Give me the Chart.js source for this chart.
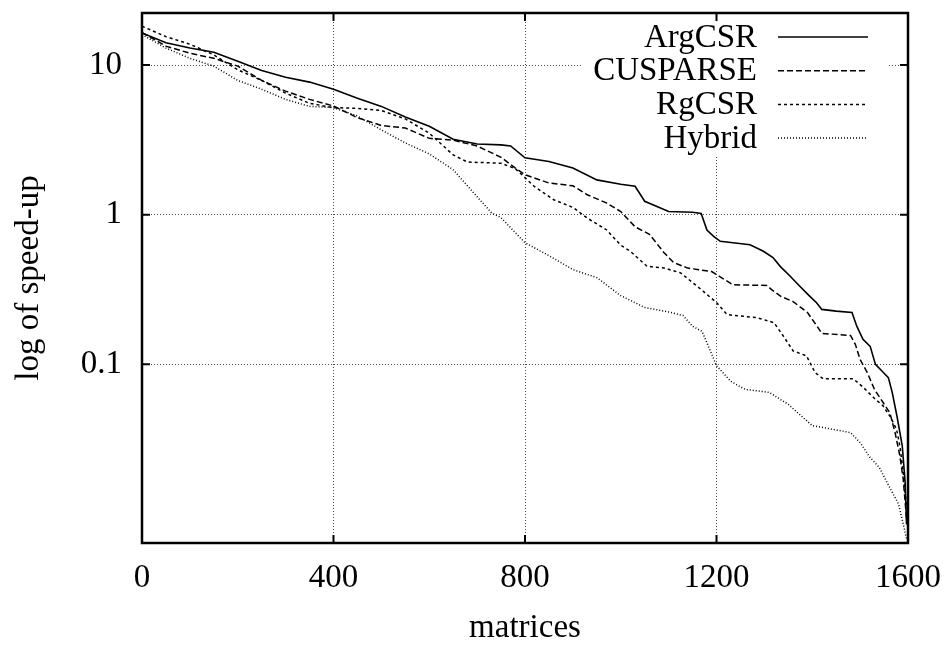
<!DOCTYPE html>
<html>
<head>
<meta charset="utf-8">
<title>log of speed-up</title>
<script src="https://cdn.jsdelivr.net/npm/chart.js@4.4.0/dist/chart.umd.min.js"></script>
<style>
  html, body { margin: 0; padding: 0; background: #fff; }
  #wrap { width: 951px; height: 645px; }
</style>
</head>
<body>
<div id="wrap"><canvas id="speedup" width="951" height="645"></canvas></div>
<script>
// values (x = matrix rank, y = speed-up)
const argX = [0,50,100,150,200,250,300,350,400,450,500,550,600,650,700,750,770,800,850,900,950,1000,1030,1050,1100,1150,1168,1180,1194,1208,1270,1298,1318,1333,1354,1374,1395,1409,1420,1450,1483,1493,1506,1521,1532,1546,1559,1567,1577,1588,1594,1597];
const argY = [16.4,14.1,13.0,12.2,10.6,9.2,8.3,7.7,6.9,6.0,5.3,4.5,3.9,3.2,2.97,2.93,2.88,2.4,2.27,2.05,1.71,1.6,1.55,1.23,1.05,1.04,1.02,0.79,0.717,0.664,0.631,0.57,0.517,0.452,0.388,0.333,0.285,0.258,0.233,0.227,0.222,0.18,0.147,0.132,0.1,0.09,0.0815,0.065,0.045,0.0285,0.0163,0.0085];

const cusX = [0,50,100,150,200,250,300,350,400,450,500,550,600,650,700,750,780,800,850,900,930,970,1000,1030,1060,1090,1110,1140,1190,1210,1235,1305,1315,1335,1360,1390,1410,1420,1480,1490,1500,1515,1530,1548,1562,1573,1583,1590,1597];
const cusY = [16.5,13.4,12.0,11.1,9.85,7.9,6.7,5.9,5.33,4.45,3.95,3.8,3.24,3.15,2.88,2.42,2.05,1.85,1.63,1.56,1.36,1.2,1.05,0.83,0.74,0.56,0.48,0.44,0.417,0.38,0.34,0.337,0.316,0.284,0.263,0.222,0.18,0.161,0.156,0.136,0.108,0.088,0.068,0.0556,0.0476,0.035,0.0245,0.0171,0.0093];

const rgX = [0,50,100,150,200,250,300,350,400,450,500,550,600,650,680,750,780,820,860,900,930,970,1000,1020,1055,1090,1125,1166,1200,1222,1285,1320,1340,1360,1388,1406,1423,1486,1507,1528,1548,1562,1576,1583,1590,1597];
const rgY = [18.2,15.5,13.8,11.7,9.3,7.9,6.5,5.55,5.2,5.14,4.97,4.37,3.51,2.51,2.25,2.21,2.03,1.54,1.26,1.12,0.95,0.794,0.626,0.569,0.452,0.441,0.409,0.32,0.259,0.215,0.205,0.19,0.154,0.123,0.114,0.088,0.08,0.08,0.07,0.06,0.0528,0.0452,0.0369,0.0285,0.019,0.011];

const hybX = [0,50,100,150,200,250,300,350,400,450,500,550,600,650,700,730,750,800,850,900,950,1000,1050,1100,1130,1150,1170,1200,1230,1260,1310,1350,1400,1480,1500,1520,1540,1560,1580,1590,1597];
const hybY = [16.0,13.0,11.1,9.85,7.9,6.9,5.9,5.3,5.2,4.57,3.69,3.02,2.55,2.0,1.32,1.03,0.955,0.65,0.533,0.43,0.38,0.288,0.24,0.224,0.212,0.18,0.166,0.098,0.077,0.068,0.065,0.054,0.039,0.035,0.03,0.024,0.0205,0.0154,0.0117,0.0086,0.0068];

const seriesNames = ["ArgCSR", "CUSPARSE", "RgCSR", "Hybrid"];
const xTicks = [0, 400, 800, 1200, 1600];
const yTicks = [0.1, 1, 10];

const FONT = "'Liberation Serif', 'Times New Roman', serif";
Chart.defaults.font.family = FONT;
Chart.defaults.font.size = 33;
Chart.defaults.color = "#000";

function toPoints(xs, ys) {
  return xs.map((x, i) => ({ x: x, y: ys[i] }));
}

const lineStyles = [
  { dash: [], width: 1.6 },
  { dash: [6, 3], width: 1.5 },
  { dash: [3, 3], width: 1.5 },
  { dash: [1, 2], width: 1.5 }
];

const allX = [argX, cusX, rgX, hybX];
const allY = [argY, cusY, rgY, hybY];

const datasets = seriesNames.map((name, i) => ({
  label: name,
  data: toPoints(allX[i], allY[i]),
  borderColor: "#000",
  borderWidth: lineStyles[i].width,
  borderDash: lineStyles[i].dash,
  pointRadius: 0,
  fill: false,
  tension: 0
}));

// frame, inward tick marks and the gnuplot-style key
const framePlugin = {
  id: "frame",
  beforeDatasetsDraw(chart) {
    const { ctx, chartArea: a } = chart;
    ctx.save();
    ctx.fillStyle = "#fff";
    ctx.fillRect(a.right - 325, a.top + 1, 305, 143);
    ctx.restore();
  },
  afterDatasetsDraw(chart) {
    const { ctx, chartArea: a, scales } = chart;
    ctx.save();
    ctx.strokeStyle = "#000";

    ctx.lineWidth = 2;
    ctx.beginPath();
    xTicks.forEach(v => {
      const px = scales.x.getPixelForValue(v);
      ctx.moveTo(px, a.bottom); ctx.lineTo(px, a.bottom - 8);
      ctx.moveTo(px, a.top); ctx.lineTo(px, a.top + 8);
    });
    yTicks.forEach(v => {
      const py = scales.y.getPixelForValue(v);
      ctx.moveTo(a.left, py); ctx.lineTo(a.left + 8, py);
      ctx.moveTo(a.right, py); ctx.lineTo(a.right - 8, py);
    });
    ctx.stroke();

    ctx.lineWidth = 2.5;
    ctx.strokeRect(a.left, a.top, a.right - a.left, a.bottom - a.top);

    // key
    ctx.font = "33px " + FONT;
    ctx.fillStyle = "#000";
    ctx.textAlign = "right";
    ctx.textBaseline = "middle";
    chart.data.datasets.forEach((ds, i) => {
      const y = a.top + 24 + i * 33.7;
      ctx.fillText(ds.label, a.right - 151, y + 1);
      ctx.lineWidth = ds.borderWidth;
      ctx.setLineDash(ds.borderDash);
      ctx.beginPath();
      ctx.moveTo(a.right - 130, y);
      ctx.lineTo(a.right - 40, y);
      ctx.stroke();
      ctx.setLineDash([]);
    });
    ctx.restore();
  }
};

new Chart(document.getElementById("speedup"), {
  type: "line",
  data: { datasets: datasets },
  options: {
    responsive: false,
    animation: false,
    devicePixelRatio: 1,
    layout: { padding: { top: 13, right: 43, left: 0, bottom: 0 } },
    plugins: {
      legend: { display: false },
      tooltip: { enabled: false }
    },
    scales: {
      x: {
        type: "linear",
        min: 0,
        max: 1600,
        afterBuildTicks: s => { s.ticks = xTicks.map(v => ({ value: v })); },
        afterFit: s => { s.height = 102; },
        ticks: {
          callback: v => String(v),
          padding: 2,
          maxRotation: 0,
          autoSkip: false
        },
        grid: {
          color: "rgba(0,0,0,0.7)",
          lineWidth: 1,
          drawTicks: true,
          tickLength: 14,
          tickColor: "rgba(0,0,0,0)"
        },
        border: { display: false, dash: [1, 2] },
        title: {
          display: true,
          text: "matrices",
          padding: { top: 0, bottom: -3 }
        }
      },
      y: {
        type: "logarithmic",
        min: 0.0064,
        max: 22.3,
        afterBuildTicks: s => { s.ticks = yTicks.map(v => ({ value: v })); },
        afterFit: s => {
          s.width = 142;
          s.paddingTop = 0;
          s.paddingBottom = 0;
        },
        ticks: {
          callback: v => String(v),
          padding: 2,
          autoSkip: false
        },
        grid: {
          color: "rgba(0,0,0,0.7)",
          lineWidth: 1,
          drawTicks: true,
          tickLength: 18,
          tickColor: "rgba(0,0,0,0)"
        },
        border: { display: false, dash: [1, 2] },
        title: {
          display: true,
          text: "log of speed-up",
          padding: { top: 10, bottom: 0 }
        }
      }
    }
  },
  plugins: [framePlugin]
});
</script>
</body>
</html>
